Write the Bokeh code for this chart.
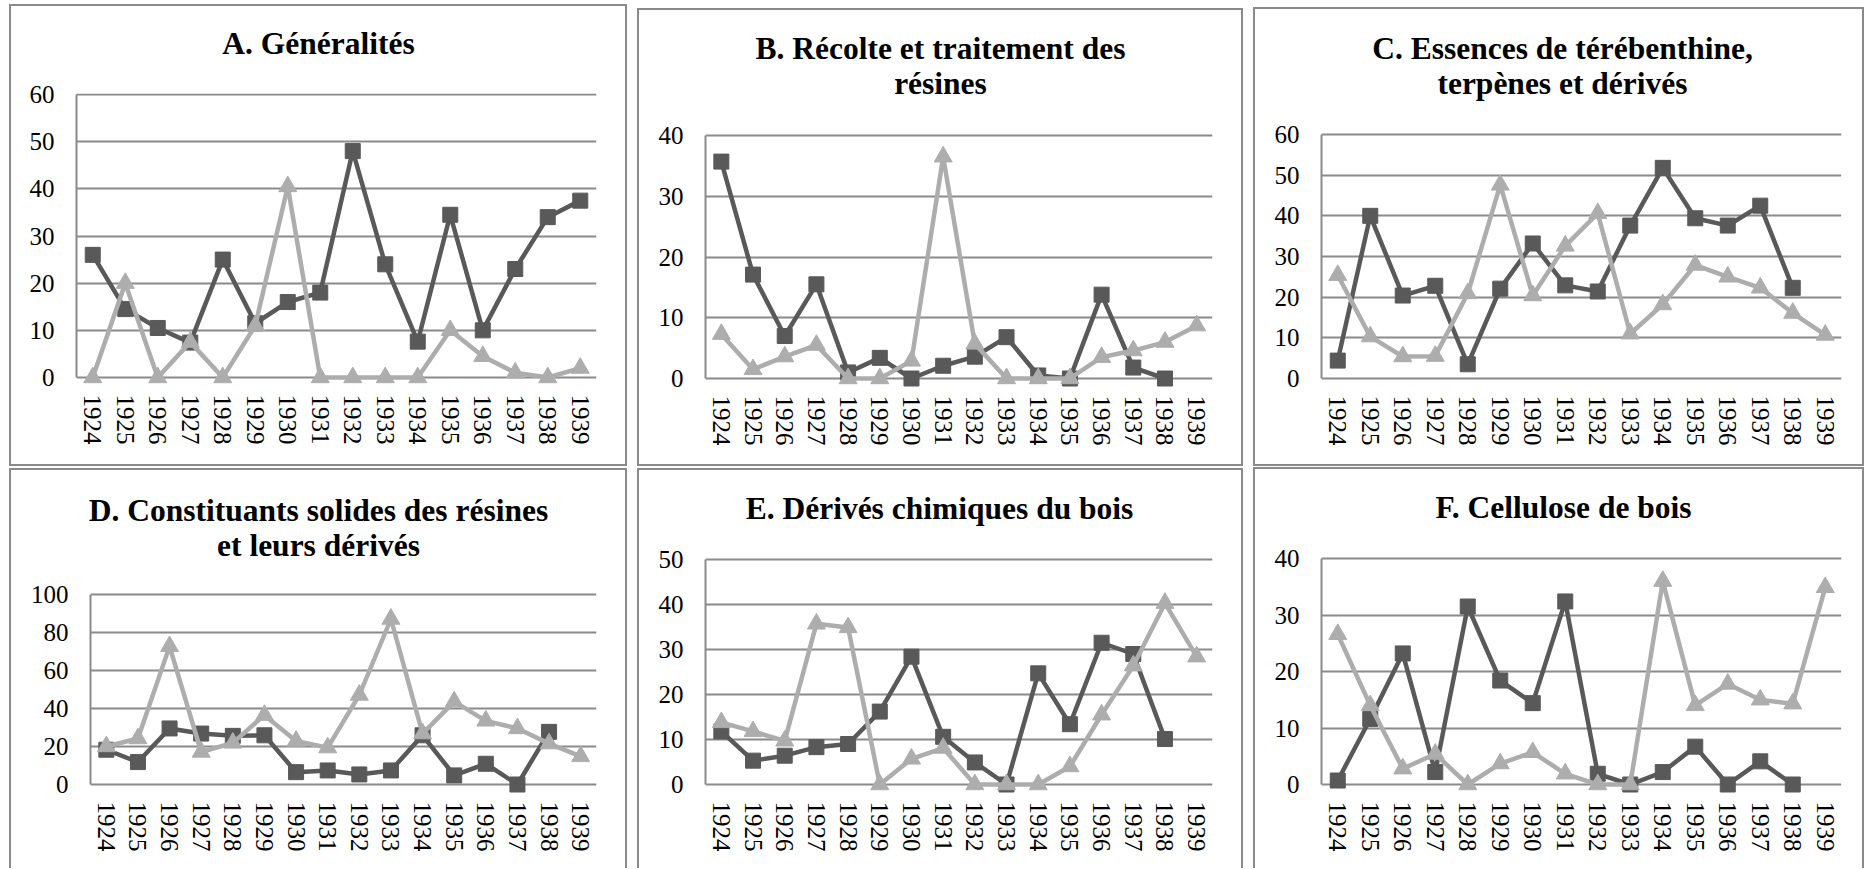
from bokeh.plotting import figure
from bokeh.layouts import row, column
from bokeh.models import Range1d, FactorRange, FixedTicker, LinearAxis
from bokeh.embed import file_html
from bokeh.resources import INLINE

nan = float("nan")
years = [str(y) for y in range(1924, 1940)]

# ---- data ----
a_title = "A. Généralités"
a_dark = [26, 14.5, 10.5, 7.4, 25, 11.5, 16, 18, 48, 24, 7.6, 34.5, 10, 23, 34, 37.5]
a_light = [0, 20, 0, 7.5, 0, 11, 40.5, 0, 0, 0, 0, 10, 4.5, 1, 0, 2]

b_title = "B. Récolte et traitement des\nrésines"
b_dark = [35.7, 17.1, 7.0, 15.5, 1.0, 3.4, 0, 2.1, 3.6, 6.8, 0.5, 0, 13.8, 1.8, 0, nan]
b_light = [7.3, 1.5, 3.6, 5.5, 0, 0, 2.9, 36.5, 5.7, 0, 0, 0, 3.5, 4.6, 6.0, 8.7]

c_title = "C. Essences de térébenthine,\nterpènes et dérivés"
c_dark = [4.4, 40, 20.4, 22.8, 3.5, 22.1, 33.2, 22.9, 21.4, 37.6, 51.8, 39.4, 37.6, 42.5, 22.3, nan]
c_light = [25.4, 10.3, 5.4, 5.5, 20.9, 47.6, 20.4, 32.6, 40.6, 11, 18.2, 27.9, 25, 22.3, 16.1, 10.7]

d_title = "D. Constituants solides des résines\net leurs dérivés"
d_dark = [18.3, 11.8, 29.5, 26.8, 25.6, 25.9, 6.5, 7.4, 5.3, 7.4, 25.9, 4.8, 10.9, 0, 27.7, nan]
d_light = [20, 24.2, 72.7, 17.1, 21.9, 36.5, 22.9, 19.4, 47.1, 87.1, 26.8, 43.6, 33.5, 29.5, 21.5, 14.8]

e_title = "E. Dérivés chimiques du bois"
e_dark = [11.8, 5.3, 6.4, 8.3, 9.0, 16.2, 28.4, 10.6, 4.9, 0, 24.7, 13.4, 31.5, 29, 10.1, nan]
e_light = [13.8, 11.8, 9.7, 35.7, 34.9, 0, 5.7, 8.1, 0, 0, 0, 4, 15.5, 26.4, 40.3, 28.4]

f_title = "F. Cellulose de bois"
f_dark = [0.7, 11.6, 23.2, 2.2, 31.5, 18.4, 14.4, 32.4, 1.9, 0, 2.2, 6.7, 0, 4.1, 0, nan]
f_light = [26.6, 14, 2.8, 5.4, 0, 3.7, 5.7, 1.9, 0, 0, 36, 14, 17.8, 15, 14.3, 34.9]

y_max = {"A": 60, "B": 40, "C": 60, "D": 100, "E": 50, "F": 40}
y_step = {"A": 10, "B": 10, "C": 10, "D": 20, "E": 10, "F": 10}

# ---- layout / style ----
DARK = "#595959"
LIGHT = "#adadad"
GRID = "#8a8a8a"
FONT = "Liberation Serif"
TITLE_SIZE = 31.5
TICK_SIZE = "25px"

rows_cfg = {1: dict(h=466, T=93, Fb=388), 2: dict(h=402, T=90, Fb=328)}
panel_cfg = {
    "A": dict(r=1, w=618, grid=(67, 94, 587, 377), tb=4, cx=309, ts=33, bottom=True),
    "B": dict(r=1, w=606, grid=(68, 135, 575, 378), tb=8, cx=303, ts=-7, bottom=True),
    "C": dict(r=1, w=611, grid=(68, 134, 588, 378), tb=7, cx=309, ts=-7, bottom=True),
    "D": dict(r=2, w=618, grid=(81, 128, 587, 318), tb=2, cx=309, ts=-6, bottom=False),
    "E": dict(r=2, w=606, grid=(68, 93, 575, 318), tb=2, cx=302, ts=31, bottom=False),
    "F": dict(r=2, w=611, grid=(68, 92, 588, 318), tb=1, cx=310, ts=32, bottom=False),
}


def border_style(tb, bottom):
    shadows = [f"inset 0 {tb}px 0 0 #ffffff", f"inset 0 {tb + 2}px 0 0 {GRID}",
               f"inset 2px 0 0 0 {GRID}", f"inset -2px 0 0 0 {GRID}"]
    if bottom:
        shadows.append(f"inset 0 -2px 0 0 {GRID}")
    return {"box-shadow": ", ".join(shadows), "background-color": "#ffffff"}


def make_panel(key, title, dark, light):
    cfg = panel_cfg[key]
    rc = rows_cfg[cfg["r"]]
    gl, gt, gr, gz = cfg["grid"]
    T, Fb, h, w = rc["T"], rc["Fb"], rc["h"], cfg["w"]
    ymax = y_max[key]
    ppu = (gz - gt) / ymax
    p = figure(
        width=w, height=h,
        x_range=FactorRange(*years),
        y_range=Range1d(-(Fb - gz) / ppu, ymax + (gt - T) / ppu),
        output_backend="svg", toolbar_location=None,
        min_border_left=gl, min_border_right=w - gr,
        min_border_top=T, min_border_bottom=h - Fb,
    )
    p.background_fill_color = "white"
    p.border_fill_alpha = 0
    p.outline_line_color = None
    p.styles = border_style(cfg["tb"], cfg["bottom"])

    yax = p.yaxis[0]
    yax.ticker = FixedTicker(ticks=list(range(0, ymax + 1, y_step[key])))
    yax.bounds = (0, ymax)
    yax.axis_line_color = GRID
    yax.axis_line_width = 2
    yax.major_tick_line_color = None
    yax.minor_tick_line_color = None
    yax.major_tick_out = 0
    yax.major_label_standoff = 22
    yax.major_label_text_font = FONT
    yax.major_label_text_font_size = TICK_SIZE
    yax.major_label_text_color = "black"

    xax = p.xaxis[0]
    xax.axis_line_color = None
    xax.major_tick_line_color = None
    xax.minor_tick_line_color = None
    xax.major_tick_out = 0
    xax.major_label_orientation = "vertical"
    xax.major_label_standoff = gz + 17 - Fb
    xax.major_label_text_font = FONT
    xax.major_label_text_font_size = TICK_SIZE
    xax.major_label_text_color = "black"

    p.xgrid.grid_line_color = None
    p.ygrid.grid_line_color = GRID
    p.ygrid.grid_line_width = 2
    p.ygrid.ticker = yax.ticker

    p.line(years, dark, line_color=DARK, line_width=4.5)
    p.scatter(years, dark, marker="square", size=15, color=DARK)
    p.line(years, light, line_color=LIGHT, line_width=4.5)
    p.scatter(years, light, marker="triangle", size=18, color=LIGHT)

    # chart title, centred on the panel box (not on the plot frame):
    # one labelled position on the category scale, in its synthetic units
    t = round((cfg["cx"] - gl) / (gr - gl) * len(years), 4)
    tax = LinearAxis(ticker=FixedTicker(ticks=[t]), major_label_overrides={t: title})
    tax.axis_line_color = None
    tax.major_tick_line_color = None
    tax.minor_tick_line_color = None
    tax.major_tick_out = 0
    tax.major_tick_in = 0
    tax.major_label_standoff = cfg["ts"]
    tax.major_label_text_font = FONT
    tax.major_label_text_font_size = f"{TITLE_SIZE}px"
    tax.major_label_text_font_style = "bold"
    tax.major_label_text_color = "black"
    tax.major_label_text_line_height = 1.0
    p.add_layout(tax, "above")
    return p


pa = make_panel("A", a_title, a_dark, a_light)
pb = make_panel("B", b_title, b_dark, b_light)
pc = make_panel("C", c_title, c_dark, c_light)
pd_ = make_panel("D", d_title, d_dark, d_light)
pe = make_panel("E", e_title, e_dark, e_light)
pf = make_panel("F", f_title, f_dark, f_light)

layout = column(row(pa, pb, pc, spacing=10), row(pd_, pe, pf, spacing=10), spacing=0,
                margin=(0, 0, 0, 9))

open("out.html", "w").write(file_html(layout, INLINE))
